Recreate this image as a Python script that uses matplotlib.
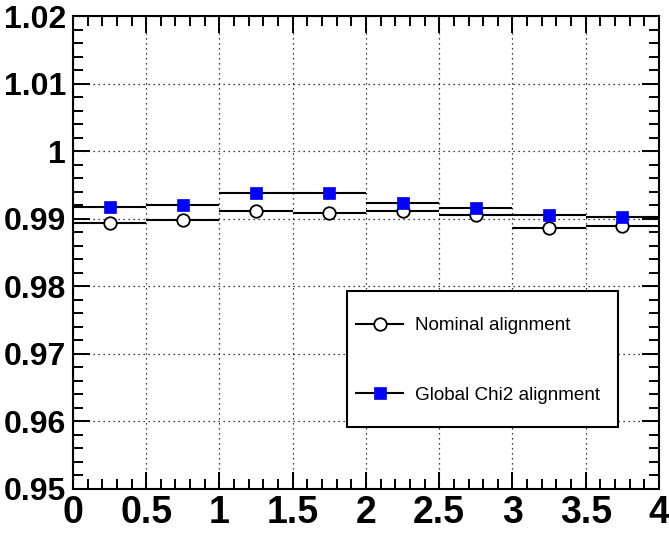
import numpy as np
import matplotlib.pyplot as plt
from matplotlib.lines import Line2D
from matplotlib.patches import Rectangle
from matplotlib.ticker import MultipleLocator, FixedLocator, FuncFormatter

# bin centres (bins of width 0.5 from 0 to 4) and ratio per bin
bin_centres = [0.25, 0.75, 1.25, 1.75, 2.25, 2.75, 3.25, 3.75]
bin_halfwidth = [0.25] * 8
nominal = [0.9894, 0.9898, 0.9911, 0.9908, 0.9912, 0.9905, 0.9887, 0.9889]
global_chi2 = [0.9917, 0.9921, 0.9938, 0.9938, 0.9923, 0.9916, 0.9906, 0.9903]

x_ticks = [0, 0.5, 1, 1.5, 2, 2.5, 3, 3.5, 4]
y_ticks = [0.95, 0.96, 0.97, 0.98, 0.99, 1.00, 1.01, 1.02]

plt.rcParams["font.family"] = ["Liberation Sans", "DejaVu Sans"]

fig = plt.figure(figsize=(6.69, 5.33), dpi=100)
ax = fig.add_axes([0.109, 0.0826, 0.876, 0.887])

ax.grid(True, which="major", color="black", linestyle=(0, (1, 3)), linewidth=0.9)
ax.set_axisbelow(True)

nom_style = dict(marker="o", markersize=9, markerfacecolor="white",
                 markeredgecolor="black", markeredgewidth=1.3)
glob_style = dict(marker="s", markersize=9, markerfacecolor="#0000ff",
                  markeredgecolor="#0000ff", markeredgewidth=0.5)

ax.errorbar(bin_centres, nominal, xerr=bin_halfwidth, linestyle="none",
            ecolor="black", elinewidth=1.5, capsize=0, zorder=3, **nom_style)
ax.errorbar(bin_centres, global_chi2, xerr=bin_halfwidth, linestyle="none",
            ecolor="black", elinewidth=1.5, capsize=0, zorder=4, **glob_style)

ax.set_xlim(0, 4)
ax.set_ylim(0.95, 1.02)
ax.xaxis.set_major_locator(FixedLocator(x_ticks))
ax.xaxis.set_minor_locator(MultipleLocator(0.1))
ax.yaxis.set_major_locator(FixedLocator(y_ticks))
ax.yaxis.set_minor_locator(MultipleLocator(0.002))
ax.xaxis.set_major_formatter(FuncFormatter(lambda v, p: f"{v:g}"))
ax.yaxis.set_major_formatter(FuncFormatter(lambda v, p: f"{round(v, 3):g}"))

ax.tick_params(which="both", direction="in", top=True, right=True, width=1.4)
ax.tick_params(which="major", length=12)
ax.tick_params(which="minor", length=7)
ax.tick_params(axis="x", which="major", labelsize=27, pad=4)
ax.tick_params(axis="y", which="major", labelsize=23, pad=5)
for lab in ax.get_xticklabels() + ax.get_yticklabels():
    lab.set_fontweight("bold")
for sp in ax.spines.values():
    sp.set_linewidth(1.5)

# legend box drawn separately so the entries can sit close to its left edge
ax.add_patch(Rectangle((0.467, 0.132), 0.463, 0.287, transform=ax.transAxes,
                       facecolor="white", edgecolor="black", linewidth=1.5,
                       zorder=5))
handles = [Line2D([], [], color="black", linewidth=1.5, **nom_style),
           Line2D([], [], color="black", linewidth=1.5, **glob_style)]
leg = ax.legend(handles, ["Nominal alignment", "Global Chi2 alignment"],
                loc="center left", bbox_to_anchor=(0.467, 0.272),
                fontsize=13.6, frameon=False, handlelength=2.5,
                handletextpad=0.6, labelspacing=2.75, borderpad=0.5,
                borderaxespad=0)
leg.set_zorder(6)

fig.savefig("out.png", dpi=100, facecolor="white")
